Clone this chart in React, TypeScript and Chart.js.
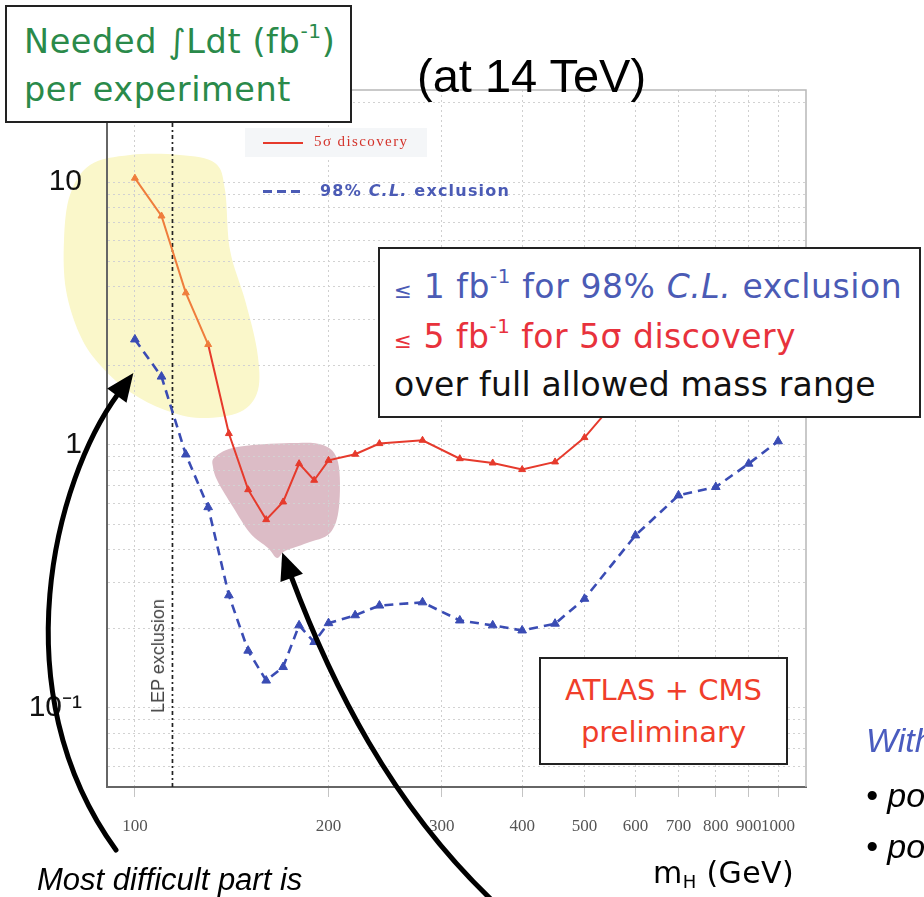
import React, { useEffect, useRef } from "react";
import { Chart, registerables } from "chart.js";

Chart.register(...registerables);

// ---- data ----
const discoveryMass = [100, 110, 120, 130, 140, 150, 160, 170, 180, 190, 200, 220, 240, 280, 320, 360, 400, 450, 500, 600, 700, 800, 900, 1000];
const discoveryLumi = [10.35, 7.43, 3.79, 2.41, 1.105, 0.676, 0.52, 0.607, 0.849, 0.734, 0.874, 0.922, 1.012, 1.042, 0.887, 0.854, 0.806, 0.862, 1.067, 1.8, 2.5, 3.2, 3.8, 4.3];
const exclusionMass = [100, 110, 120, 130, 140, 150, 160, 170, 180, 190, 200, 220, 240, 280, 320, 360, 400, 450, 500, 600, 700, 800, 900, 1000];
const exclusionLumi = [2.52, 1.82, 0.92, 0.58, 0.268, 0.165, 0.127, 0.143, 0.206, 0.178, 0.21, 0.225, 0.245, 0.252, 0.215, 0.206, 0.197, 0.209, 0.26, 0.453, 0.643, 0.692, 0.849, 1.033];
const lepMass = 114.4;

const xRange = [90.5, 1105];
const yRange = [0.05, 22.4];
const xTickValues = [100, 200, 300, 400, 500, 600, 700, 800, 900, 1000];
const yGridValues = [0.06, 0.07, 0.08, 0.09, 0.1, 0.2, 0.3, 0.4, 0.5, 0.6, 0.7, 0.8, 0.9, 1, 2, 3, 4, 5, 6, 7, 8, 9, 10, 20];
const yMajorValues = [0.1, 1, 10];
const yMajorLabels = ["10\u207B\u00B9", "1", "10"];

const RED = "#e63a2c";
const ORANGE = "#ef7d3c";
const BLUE = "#3a4cb4";
const highlightedCount = 4; // first discovery points sitting in the yellow highlight

// ---- decorative slide annotations (pixel space) ----
const yellowBlob: [number, number][] = [
  [90, 165], [130, 155], [180, 155], [215, 163], [225, 190], [230, 250], [245, 300], [257, 350],
  [258, 390], [240, 412], [200, 418], [165, 410], [130, 392], [100, 365], [80, 335], [66, 290], [64, 240], [70, 195],
];
const pinkBlob: [number, number][] = [
  [215, 457], [237, 447], [290, 443], [323, 445], [338, 462], [339, 507], [330, 533], [307, 543],
  [285, 551], [277, 558], [268, 548], [250, 533], [233, 507], [218, 482], [213, 467],
];
const leftArrow = [[116, 850], [0, 690], [55, 480], [118, 394]];
const rightArrow = [[497, 905], [390, 805], [330, 680], [291, 576]];

function smoothPath(ctx: CanvasRenderingContext2D, pts: [number, number][]) {
  const n = pts.length;
  ctx.beginPath();
  ctx.moveTo(pts[0][0], pts[0][1]);
  for (let i = 0; i < n; i++) {
    const p1 = pts[i];
    const p2 = pts[(i + 1) % n];
    const p0 = pts[(i - 1 + n) % n];
    const p3 = pts[(i + 2) % n];
    ctx.bezierCurveTo(
      p1[0] + (p2[0] - p0[0]) / 6,
      p1[1] + (p2[1] - p0[1]) / 6,
      p2[0] - (p3[0] - p1[0]) / 6,
      p2[1] - (p3[1] - p1[1]) / 6,
      p2[0],
      p2[1]
    );
  }
  ctx.closePath();
}

function drawArrow(ctx: CanvasRenderingContext2D, c: number[][], headLen: number, halfW: number) {
  ctx.beginPath();
  ctx.moveTo(c[0][0], c[0][1]);
  ctx.bezierCurveTo(c[1][0], c[1][1], c[2][0], c[2][1], c[3][0], c[3][1]);
  ctx.stroke();
  const dx = c[3][0] - c[2][0];
  const dy = c[3][1] - c[2][1];
  const len = Math.hypot(dx, dy);
  const ux = dx / len;
  const uy = dy / len;
  const base = [c[3][0] - ux * 2, c[3][1] - uy * 2];
  const tip = [c[3][0] + ux * headLen, c[3][1] + uy * headLen];
  ctx.beginPath();
  ctx.moveTo(tip[0], tip[1]);
  ctx.lineTo(base[0] - uy * halfW, base[1] + ux * halfW);
  ctx.lineTo(base[0] + uy * halfW, base[1] - ux * halfW);
  ctx.closePath();
  ctx.fill();
}

const overlayPlugin = {
  id: "slideOverlay",
  beforeDraw(chart: any) {
    const ctx: CanvasRenderingContext2D = chart.ctx;
    ctx.save();
    ctx.fillStyle = "#fff";
    ctx.fillRect(0, 0, chart.width, chart.height);
    ctx.fillStyle = "#faf7ca";
    smoothPath(ctx, yellowBlob);
    ctx.fill();
    ctx.fillStyle = "#dcbcc6";
    smoothPath(ctx, pinkBlob);
    ctx.fill();
    ctx.restore();
  },
  afterDraw(chart: any) {
    const ctx: CanvasRenderingContext2D = chart.ctx;
    const { left, top, right, bottom } = chart.chartArea;
    ctx.save();
    ctx.strokeStyle = "#b8b8b8";
    ctx.lineWidth = 1.5;
    ctx.beginPath();
    ctx.moveTo(left, top);
    ctx.lineTo(right, top);
    ctx.lineTo(right, bottom);
    ctx.stroke();

    ctx.strokeStyle = "#000";
    ctx.fillStyle = "#000";
    ctx.lineWidth = 5;
    ctx.lineCap = "round";
    drawArrow(ctx, leftArrow, 26, 12);
    drawArrow(ctx, rightArrow, 25, 12);
    ctx.restore();
  },
};

const comic = "'DejaVu Sans', sans-serif";
const arial = "'Liberation Sans', Arial, sans-serif";

function T(props: { x: number; base: number; size: number; color?: string; font?: string; style?: any; children: any }) {
  const { x, base, size, color, font, style, children } = props;
  return (
    <div
      style={{
        position: "absolute",
        left: x,
        top: base - 0.85 * size,
        fontSize: size,
        lineHeight: size + "px",
        fontFamily: font || comic,
        color: color || "#000",
        whiteSpace: "nowrap",
        ...style,
      }}
    >
      {children}
    </div>
  );
}

const sup = { fontSize: "0.6em", verticalAlign: "0.75em", lineHeight: 0 } as const;

export default function App() {
  const canvasRef = useRef<HTMLCanvasElement | null>(null);

  useEffect(() => {
    const canvas = canvasRef.current;
    if (!canvas) return;
    const chart = new Chart(canvas, {
      type: "line",
      data: {
        datasets: [
          {
            label: "5\u03C3 discovery",
            data: discoveryMass.map((m, i) => ({ x: m, y: discoveryLumi[i] })),
            borderColor: RED,
            backgroundColor: RED,
            pointBackgroundColor: discoveryMass.map((_, i) => (i < highlightedCount ? ORANGE : RED)),
            pointBorderColor: discoveryMass.map((_, i) => (i < highlightedCount ? ORANGE : RED)),
            segment: { borderColor: (c: any) => (c.p0DataIndex < highlightedCount - 1 ? ORANGE : RED) },
            borderWidth: 2,
            pointStyle: "triangle",
            pointRadius: 4,
            pointBorderWidth: 1,
            tension: 0,
          },
          {
            label: "98% C.L. exclusion",
            data: exclusionMass.map((m, i) => ({ x: m, y: exclusionLumi[i] })),
            borderColor: BLUE,
            backgroundColor: BLUE,
            borderWidth: 2.6,
            borderDash: [9, 6],
            pointStyle: "triangle",
            pointRadius: 5,
            pointBorderWidth: 1,
            tension: 0,
          },
          {
            label: "LEP exclusion",
            data: [
              { x: lepMass, y: yRange[0] },
              { x: lepMass, y: yRange[1] },
            ],
            borderColor: "#222",
            backgroundColor: "#222",
            borderWidth: 1.7,
            borderDash: [4, 3, 2, 3],
            pointRadius: 0,
          },
        ],
      },
      options: {
        responsive: false,
        animation: false,
        layout: { padding: { left: 0, top: 90, right: 118, bottom: 0 } },
        plugins: { legend: { display: false }, tooltip: { enabled: false } },
        scales: {
          x: {
            type: "logarithmic",
            min: xRange[0],
            max: xRange[1],
            afterBuildTicks: (s: any) => {
              s.ticks = xTickValues.map((v) => ({ value: v }));
            },
            afterFit: (s: any) => {
              s.height = 110;
            },
            ticks: {
              autoSkip: false,
              maxRotation: 0,
              minRotation: 0,
              padding: 19,
              color: "#555",
              font: { family: "'Liberation Serif', serif", size: 17 },
              callback: (v: any) => String(v),
            },
            grid: { color: "#cfcfcf", lineWidth: 1, drawTicks: true, tickLength: 10, tickColor: "#c4c4c4" },
            border: { display: true, color: "#666", width: 2, dash: [2, 3] },
          },
          y: {
            type: "logarithmic",
            min: yRange[0],
            max: yRange[1],
            afterBuildTicks: (s: any) => {
              s.ticks = yGridValues.map((v) => ({ value: v }));
            },
            afterFit: (s: any) => {
              s.width = 107;
            },
            ticks: {
              autoSkip: false,
              padding: 25,
              color: "#111",
              font: { family: arial, size: 30 },
              callback: (v: any) => {
                const idx = yMajorValues.findIndex((m) => Math.abs(m - v) < 1e-9);
                return idx >= 0 ? yMajorLabels[idx] : "";
              },
            },
            grid: { color: "#d2d2d2", lineWidth: 1, drawTicks: false },
            border: { display: true, color: "#666", width: 2, dash: [2, 3] },
          },
        },
      },
      plugins: [overlayPlugin],
    } as any);
    return () => chart.destroy();
  }, []);

  return (
    <div style={{ position: "absolute", left: 0, top: 0, width: 924, height: 897, overflow: "hidden", background: "#fff" }}>
      <canvas ref={canvasRef} width={924} height={897} style={{ position: "absolute", left: 0, top: 0, width: 924, height: 897 }} />

      {/* in-plot legend */}
      <div style={{ position: "absolute", left: 245, top: 128, width: 182, height: 29, background: "#f4f6f8" }} />
      <div style={{ position: "absolute", left: 263, top: 142, width: 40, height: 2, background: RED }} />
      <T x={314} base={147} size={15} color="#d4342c" font="'Liberation Serif', serif" style={{ letterSpacing: "1.4px" }}>5σ discovery</T>
      {[0, 14, 28].map((o) => (
        <div key={o} style={{ position: "absolute", left: 263 + o, top: 190, width: 9, height: 3, background: "#4b5bb5" }} />
      ))}
      <T x={320} base={197} size={16} color="#4b5bb5" style={{ fontWeight: "bold", letterSpacing: "1.2px" }}>98% <i>C.L.</i> exclusion</T>

      {/* LEP exclusion rotated label */}
      <div
        style={{
          position: "absolute",
          left: 158,
          top: 656,
          transform: "translate(-50%,-50%) rotate(-90deg)",
          fontFamily: arial,
          fontSize: 18,
          lineHeight: "18px",
          color: "#444",
          whiteSpace: "nowrap",
        }}
      >
        LEP exclusion
      </div>

      {/* y-axis title box */}
      <div style={{ position: "absolute", left: 5, top: 5, width: 347, height: 118, border: "2px solid #222", background: "#fff", boxSizing: "border-box" }} />
      <T x={24} base={53} size={33.5} color="#2a8a4a" style={{ letterSpacing: "0.6px" }}>
        Needed ∫Ldt (fb<span style={sup}>-1</span>)
      </T>
      <T x={24} base={101} size={33.5} color="#2a8a4a" style={{ letterSpacing: "0.6px" }}>per experiment</T>

      <T x={417} base={92} size={47} font={arial}>(at 14 TeV)</T>

      {/* summary box */}
      <div style={{ position: "absolute", left: 378, top: 247, width: 543, height: 171, border: "2px solid #222", background: "#fff", boxSizing: "border-box" }} />
      <T x={394} base={298} size={33} color="#4b5bb5" style={{ letterSpacing: "0.6px" }}>
        <span style={{ fontSize: "0.65em" }}>≤</span> 1 fb<span style={sup}>-1</span> for 98% <i>C.L.</i> exclusion
      </T>
      <T x={394} base={348} size={33} color="#e8323c" style={{ letterSpacing: "0.5px" }}>
        <span style={{ fontSize: "0.65em" }}>≤</span> 5 fb<span style={sup}>-1</span> for 5σ discovery
      </T>
      <T x={394} base={396} size={33} color="#111" style={{ letterSpacing: "0.2px" }}>over full allowed mass range</T>

      {/* ATLAS + CMS box */}
      <div style={{ position: "absolute", left: 539, top: 657, width: 249, height: 108, border: "2px solid #222", background: "#fff", boxSizing: "border-box" }} />
      <div style={{ position: "absolute", left: 539, top: 701 - 0.85 * 29, width: 249, textAlign: "center", fontFamily: comic, fontSize: 29, lineHeight: "29px", color: "#f03e2a" }}>ATLAS + CMS</div>
      <div style={{ position: "absolute", left: 539, top: 743 - 0.85 * 29, width: 249, textAlign: "center", fontFamily: comic, fontSize: 29, lineHeight: "29px", color: "#f03e2a" }}>preliminary</div>

      {/* x-axis title */}
      <T x={653} base={883} size={30} style={{ letterSpacing: "0.4px" }}>
        m<span style={{ fontSize: "0.6em", verticalAlign: "-0.3em", lineHeight: 0 }}>H</span> (GeV)
      </T>

      {/* slide text around the chart */}
      <T x={37} base={890} size={31} font={arial} style={{ fontStyle: "italic" }}>Most difficult part is</T>
      <T x={866} base={752} size={34} font={arial} color="#4a5cbf" style={{ fontStyle: "italic" }}>With</T>
      <T x={866} base={807} size={34} font={arial} style={{ fontStyle: "italic" }}>• po</T>
      <T x={866} base={858} size={34} font={arial} style={{ fontStyle: "italic" }}>• po</T>
    </div>
  );
}
